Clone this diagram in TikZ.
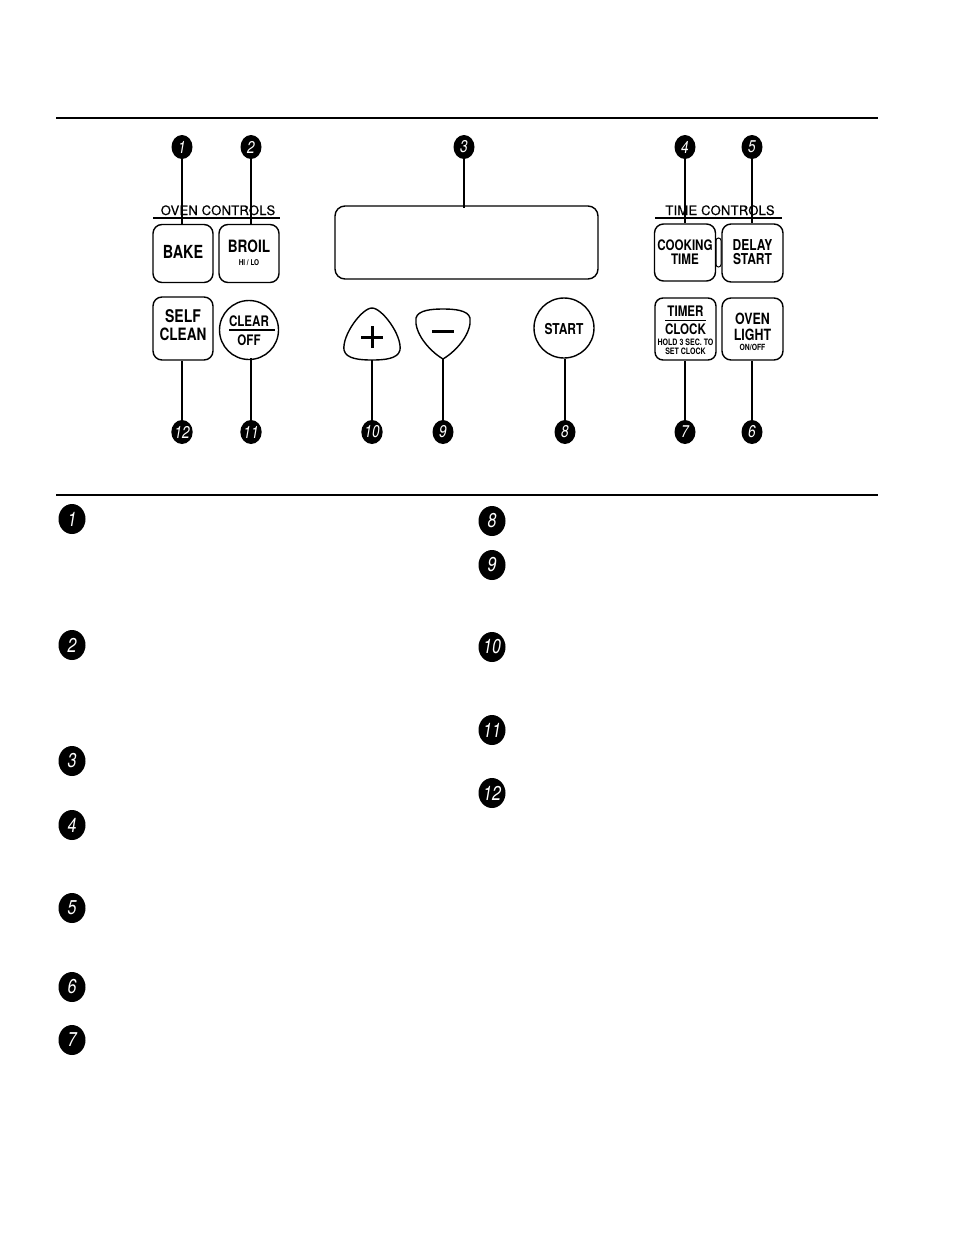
\documentclass[tikz,border=0pt]{standalone}
\usepackage{fontspec}
\setmainfont{TeX Gyre Heros}
\newfontfamily\cnd{TeX Gyre Heros}[FakeStretch=0.8]
\newfontfamily\wide{TeX Gyre Heros}[LetterSpace=2,FakeBold=0.6]
\usetikzlibrary{shapes.geometric,positioning}

\newcommand\fs[1]{\fontsize{#1}{#1}\selectfont}

\tikzset{
  num/.style={ellipse,fill=black,text=white,inner sep=0pt,minimum width=21,minimum height=24,font=\cnd\itshape\fs{17}},
  bignum/.style={num,minimum width=27,minimum height=30,font=\cnd\itshape\fs{20}},
  key/.style={draw,line width=1.4pt,rounded corners=9pt,minimum width=61,minimum height=58,inner sep=0pt},
  rkey/.style={draw,circle,line width=1.4pt,minimum size=59,inner sep=0pt},
  ktxt/.style={inner sep=0pt,anchor=base,font=\cnd\bfseries},
  lead/.style={line width=1.2pt},
  rule/.style={line width=2.4pt},
  grouplbl/.style={inner sep=0pt,anchor=base,font=\wide\fs{13}}
}

\begin{document}
\begin{tikzpicture}[x=1pt,y=-1pt]
\useasboundingbox (0,0) rectangle (954,1235);

\draw[rule] (56,118) -- (878,118);
\draw[rule] (56,495) -- (878,495);

% oven controls
\node[grouplbl] (ovenlbl) at (218,215) {OVEN CONTROLS};
\draw[line width=1.8pt] (153,218) -- (280,218);
\node[key,minimum width=60] (bake) at (183,253.5) {};
\node[ktxt] (bakeA) at (183,258) {\fs{18}BAKE};
\node[key,minimum width=60] (broil) at (249,253.5) {};
\node[ktxt] (broilA) at (249,252.7) {\fs{17}BROIL};
\node[ktxt] (broilB) at (249,265) {\fs{8}HI / LO};
\node[key,minimum width=60,minimum height=63] (self) at (183,328.5) {};
\node[ktxt] (selfA) at (183,322.7) {\fs{17.5}SELF};
\node[ktxt] (selfB) at (183,340.7) {\fs{17}CLEAN};
\node[rkey] (clear) at (249,330) {};
\node[ktxt] (clearA) at (249,326.5) {\fs{14.5}CLEAR};
\node[ktxt] (clearB) at (249,345) {\fs{14.5}OFF};
\draw[line width=1.2pt] (229,330) -- (275,330);

% display and keypad
\node[draw,line width=1.4pt,rounded corners=10pt,minimum width=263,minimum height=73] (disp) at (466.5,242.5) {};
\draw[line width=1.4pt] (372,360) .. controls (360,360) and (346,359) .. (344,350)
  .. controls (342,335) and (362,308) .. (372,308)
  .. controls (382,308) and (402,335) .. (400,350)
  .. controls (398,359) and (384,360) .. (372,360) -- cycle;
\draw[line width=3pt] (361,337) -- (383,337) (372,326) -- (372,348);
\coordinate (plus) at (372,360);
\draw[line width=1.4pt] (443,359) .. controls (428,350) and (414,332) .. (416,318)
  .. controls (418,310) and (432,309) .. (443,309)
  .. controls (454,309) and (468,310) .. (470,318)
  .. controls (472,332) and (458,350) .. (443,359) -- cycle;
\draw[line width=3pt] (432,331) -- (454,331);
\coordinate (minus) at (443,359);
\node[rkey,minimum size=60] (start) at (564,328) {};
\node[ktxt] (startA) at (564,334) {\fs{15}START};

% time controls
\node[grouplbl] (timelbl) at (720,215) {TIME CONTROLS};
\draw[line width=1.8pt] (655,218) -- (782,218);
\node[key,minimum height=57] (cook) at (685,252.5) {};
\node[ktxt] (cookA) at (685,250) {\fs{14.5}COOKING};
\node[ktxt] (cookB) at (685,264) {\fs{14.5}TIME};
\draw[line width=1pt,rounded corners=2.5pt] (716,238) rectangle (721,267);
\node[key] (delay) at (752.5,253) {};
\node[ktxt] (delayA) at (752.5,250.7) {\fs{15}DELAY};
\node[ktxt] (delayB) at (752.5,264) {\fs{15}START};
\node[key,minimum height=62,rounded corners=8pt] (timer) at (685.5,329) {};
\node[ktxt] (timerA) at (685.5,316.7) {\fs{14.5}TIMER};
\draw[line width=1pt] (665,320.7) -- (706,320.7);
\node[ktxt] (timerB) at (685.5,334) {\fs{14.5}CLOCK};
\node[ktxt] (timerC) at (685.5,345) {\fs{8.8}HOLD 3 SEC. TO};
\node[ktxt] (timerD) at (685.5,354) {\fs{8.8}SET CLOCK};
\node[key,minimum height=62] (ovenlt) at (752.5,329) {};
\node[ktxt] (ovenltA) at (752.5,324) {\fs{15.5}OVEN};
\node[ktxt] (ovenltB) at (752.5,340) {\fs{15.5}LIGHT};
\node[ktxt] (ovenltC) at (752.5,350.7) {\fs{8.5}ON/OFF};

% callouts on the panel
\node[num] (n1) at (182,147) {1};
\node[num] (n2) at (251,147) {2};
\node[num] (n3) at (464,147) {3};
\node[num] (n4) at (685,147) {4};
\node[num] (n5) at (752,147) {5};
\node[num] (n12) at (182,432) {12};
\node[num] (n11) at (251,432) {11};
\node[num] (n10) at (372,432) {10};
\node[num] (n9) at (443,432) {9};
\node[num] (n8) at (565,432) {8};
\node[num] (n7) at (685,432) {7};
\node[num] (n6) at (752,432) {6};

\draw[lead] (n1) -- (n1 |- bake.north);
\draw[lead] (n2) -- (n2 |- broil.north);
\draw[lead] (n3) -- ([yshift=-3pt]n3 |- disp.north);
\draw[lead] (n4) -- (n4 |- cook.north);
\draw[lead] (n5) -- (n5 |- delay.north);
\draw[lead] (n12) -- (n12 |- self.south);
\draw[lead] (n11) -- ([yshift=2pt]n11 |- clear.south);
\draw[lead] (n10) -- (plus);
\draw[lead] (n9) -- (minus);
\draw[lead] (n8) -- (n8 |- start.south);
\draw[lead] (n7) -- (n7 |- timer.south);
\draw[lead] (n6) -- (n6 |- ovenlt.south);

% list of callouts
\foreach \n/\y in {1/519,2/645,3/761,4/825,5/908,6/987,7/1040}
  \node[bignum] (l\n) at (72,\y) {\n};
\foreach \n/\y in {8/521,9/565,10/647,11/730,12/793}
  \node[bignum] (l\n) at (492,\y) {\n};
\end{tikzpicture}
\end{document}
